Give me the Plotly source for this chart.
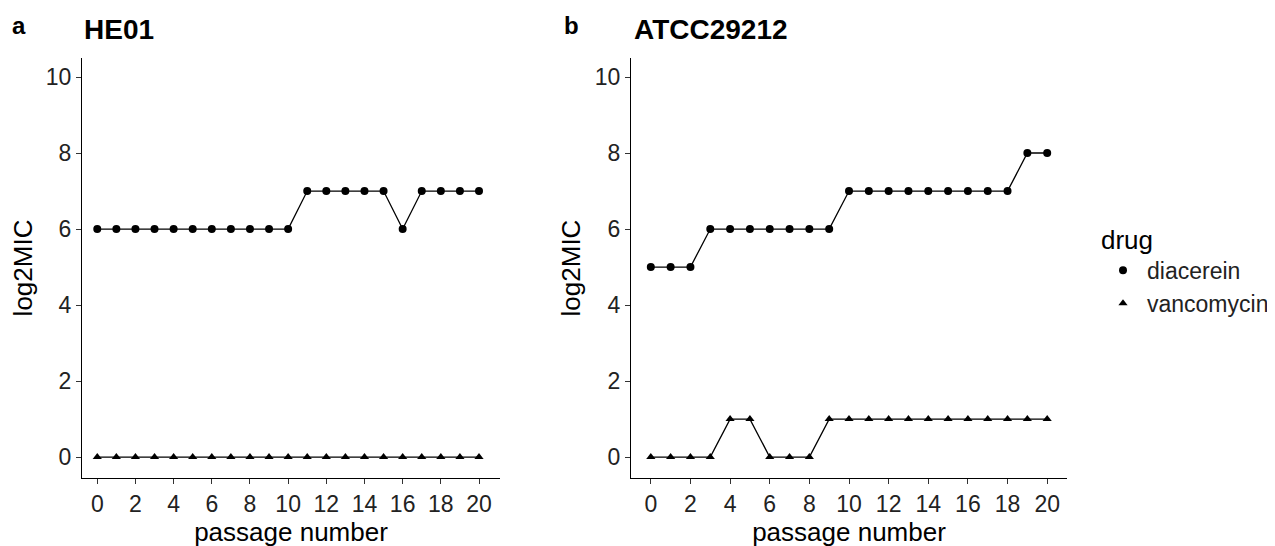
import plotly.graph_objects as go

passage = list(range(0, 21))
he01_diacerein = [6, 6, 6, 6, 6, 6, 6, 6, 6, 6, 6, 7, 7, 7, 7, 7, 6, 7, 7, 7, 7]
he01_vancomycin = [0] * 21
atcc_diacerein = [5, 5, 5, 6, 6, 6, 6, 6, 6, 6, 7, 7, 7, 7, 7, 7, 7, 7, 7, 8, 8]
atcc_vancomycin = [0, 0, 0, 0, 1, 1, 0, 0, 0, 1, 1, 1, 1, 1, 1, 1, 1, 1, 1, 1, 1]
panel_titles = ["HE01", "ATCC29212"]
panel_letters = ["a", "b"]
x_ticks = list(range(0, 21, 2))
y_ticks = list(range(0, 11, 2))

FONT = "Liberation Sans, Arial, sans-serif"
W, H = 1275, 546
OFF = 8  # page body margin offset

fig = go.Figure()

panels = [
    (he01_diacerein, he01_vancomycin, "x", "y"),
    (atcc_diacerein, atcc_vancomycin, "x2", "y2"),
]
for dia, van, xa, ya in panels:
    fig.add_trace(go.Scatter(x=passage, y=dia, mode="lines+markers", xaxis=xa, yaxis=ya,
                             line=dict(color="black", width=1.3),
                             marker=dict(symbol="circle", size=8, color="black"),
                             showlegend=False))
    fig.add_trace(go.Scatter(x=passage, y=van, mode="lines+markers", xaxis=xa, yaxis=ya,
                             line=dict(color="black", width=1.3),
                             marker=dict(symbol="triangle-up", size=8, color="black"),
                             showlegend=False))

# legend-only entries (markers only, like ggplot)
fig.add_trace(go.Scatter(x=[None], y=[None], mode="markers", name="diacerein",
                         marker=dict(symbol="circle", size=8, color="black")))
fig.add_trace(go.Scatter(x=[None], y=[None], mode="markers", name="vancomycin",
                         marker=dict(symbol="triangle-up", size=8, color="black")))

def px_x(p):
    return (p - OFF) / W

def px_y(p):
    return 1 - (p - OFF) / H

ydom = [px_y(478), px_y(58)]
axis_common = dict(showline=True, linecolor="black", linewidth=1.3, ticks="outside",
                   ticklen=5, tickwidth=1.2, tickcolor="#333", showgrid=False, zeroline=False,
                   tickfont=dict(family=FONT, size=23, color="#222"),
                   title_font=dict(family=FONT, size=26, color="black"))

fig.update_layout(
    width=W, height=H,
    margin=dict(l=0, r=0, t=0, b=0),
    plot_bgcolor="white", paper_bgcolor="white",
    xaxis=dict(domain=[px_x(82), px_x(500)], range=[-0.8, 21.1], tickvals=x_ticks,
               title=dict(text="passage number", standoff=4), anchor="y", **axis_common),
    yaxis=dict(domain=ydom, range=[-0.55, 10.5], tickvals=y_ticks,
               title=dict(text="log2MIC", standoff=6), anchor="x", **axis_common),
    xaxis2=dict(domain=[px_x(631), px_x(1067)], range=[-1, 21], tickvals=x_ticks,
                title=dict(text="passage number", standoff=4), anchor="y2", **axis_common),
    yaxis2=dict(domain=ydom, range=[-0.55, 10.5], tickvals=y_ticks,
                title=dict(text="log2MIC", standoff=6), anchor="x2", **axis_common),
    legend=dict(title=dict(text="drug", font=dict(family=FONT, size=26, color="black")),
                font=dict(family=FONT, size=23, color="#222"),
                x=px_x(1099), y=px_y(215), xanchor="left", yanchor="top",
                bgcolor="rgba(0,0,0,0)", tracegroupgap=0, itemwidth=38),
)

# panel letters and titles
for letter, title, lx, tx in zip(panel_letters, panel_titles, [10, 562], [82, 632]):
    fig.add_annotation(text=f"<b>{letter}</b>", x=px_x(lx), y=px_y(25), xref="paper", yref="paper",
                       xanchor="left", yanchor="middle", showarrow=False,
                       font=dict(family=FONT, size=24, color="black"))
    fig.add_annotation(text=f"<b>{title}</b>", x=px_x(tx), y=px_y(30), xref="paper", yref="paper",
                       xanchor="left", yanchor="middle", showarrow=False,
                       font=dict(family=FONT, size=28, color="black"))

fig.write_html("out.html")
